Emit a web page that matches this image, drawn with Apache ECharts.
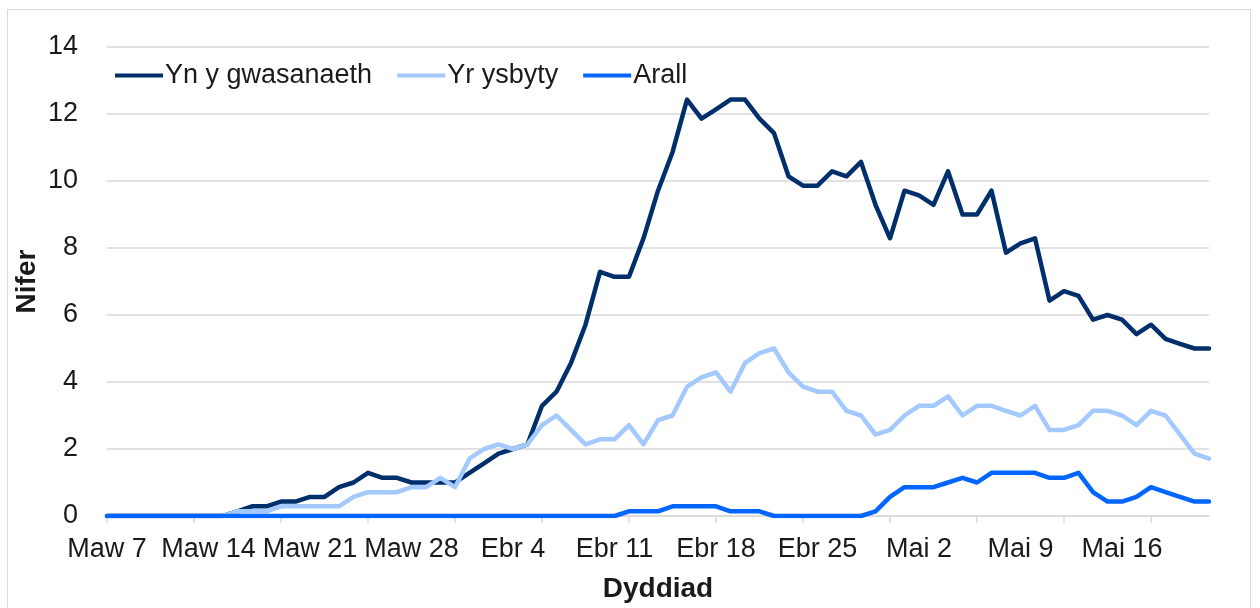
<!DOCTYPE html>
<html>
<head>
<meta charset="utf-8">
<script src="https://cdn.jsdelivr.net/npm/echarts@6/dist/echarts.min.js"></script>
<style>
  html, body { margin: 0; padding: 0; background: #fff; }
  #frame { position: absolute; left: 7px; top: 9px; width: 1244px; height: 610px; border: 1px solid #d9d9d9; box-sizing: border-box; }
  #chart { position: absolute; left: 0; top: 0; width: 1260px; height: 608px; }
</style>
</head>
<body>
<div id="frame"></div>
<div id="chart"></div>
<script>
// Categories: daily dates, Maw 7 .. Mai 22
const categories = [
  "Maw 7","Maw 8","Maw 9","Maw 10","Maw 11","Maw 12","Maw 13","Maw 14","Maw 15","Maw 16",
  "Maw 17","Maw 18","Maw 19","Maw 20","Maw 21","Maw 22","Maw 23","Maw 24","Maw 25","Maw 26",
  "Maw 27","Maw 28","Maw 29","Maw 30","Maw 31",
  "Ebr 1","Ebr 2","Ebr 3","Ebr 4","Ebr 5","Ebr 6","Ebr 7","Ebr 8","Ebr 9","Ebr 10",
  "Ebr 11","Ebr 12","Ebr 13","Ebr 14","Ebr 15","Ebr 16","Ebr 17","Ebr 18","Ebr 19","Ebr 20",
  "Ebr 21","Ebr 22","Ebr 23","Ebr 24","Ebr 25","Ebr 26","Ebr 27","Ebr 28","Ebr 29","Ebr 30",
  "Mai 1","Mai 2","Mai 3","Mai 4","Mai 5","Mai 6","Mai 7","Mai 8","Mai 9","Mai 10",
  "Mai 11","Mai 12","Mai 13","Mai 14","Mai 15","Mai 16","Mai 17","Mai 18","Mai 19","Mai 20",
  "Mai 21","Mai 22"
];

const seriesNames = ["Yn y gwasanaeth", "Yr ysbyty", "Arall"];

const ynYGwasanaeth = [
  0,0,0,0,0,0,0,0,0,0.14,
  0.29,0.29,0.43,0.43,0.57,0.57,0.86,1.0,1.29,1.14,
  1.14,1.0,1.0,1.0,1.0,1.29,1.57,1.86,2.0,2.14,
  3.29,3.71,4.57,5.71,7.29,7.14,7.14,8.29,9.71,10.86,
  12.43,11.86,12.14,12.43,12.43,11.86,11.43,10.14,9.86,9.86,
  10.29,10.14,10.57,9.29,8.29,9.71,9.57,9.29,10.29,9.0,
  9.0,9.71,7.86,8.14,8.29,6.43,6.71,6.57,5.86,6.0,
  5.86,5.43,5.71,5.29,5.14,5.0,5.0
];

const yrYsbyty = [
  0,0,0,0,0,0,0,0,0,0.14,
  0.14,0.14,0.29,0.29,0.29,0.29,0.29,0.57,0.71,0.71,
  0.71,0.86,0.86,1.14,0.86,1.71,2.0,2.14,2.0,2.14,
  2.71,3.0,2.57,2.14,2.29,2.29,2.71,2.14,2.86,3.0,
  3.86,4.14,4.29,3.71,4.57,4.86,5.0,4.29,3.86,3.71,
  3.71,3.14,3.0,2.43,2.57,3.0,3.29,3.29,3.57,3.0,
  3.29,3.29,3.14,3.0,3.29,2.57,2.57,2.71,3.14,3.14,
  3.0,2.71,3.14,3.0,2.43,1.86,1.71
];

const arall = [
  0,0,0,0,0,0,0,0,0,0,
  0,0,0,0,0,0,0,0,0,0,
  0,0,0,0,0,0,0,0,0,0,
  0,0,0,0,0,0,0.14,0.14,0.14,0.29,
  0.29,0.29,0.29,0.14,0.14,0.14,0,0,0,0,
  0,0,0,0.14,0.57,0.86,0.86,0.86,1.0,1.14,
  1.0,1.29,1.29,1.29,1.29,1.14,1.14,1.29,0.71,0.43,
  0.43,0.57,0.86,0.71,0.57,0.43,0.43
];

const yTicks = { min: 0, max: 14, interval: 2 };
const colors = ["#002f6c", "#a3c9ff", "#0066ff"];
const FONT = "'Liberation Sans', Arial, sans-serif";

const chart = echarts.init(document.getElementById('chart'), null, { renderer: 'canvas' });

function mkSeries(name, data, color) {
  return {
    name: name,
    type: 'line',
    data: data,
    symbol: 'none',
    showSymbol: false,
    smooth: false,
    color: color,
    lineStyle: { color: color, width: 4.5, cap: 'round', join: 'round' },
    emphasis: { disabled: true },
    animation: false
  };
}

chart.setOption({
  animation: false,
  backgroundColor: 'transparent',
  textStyle: { fontFamily: FONT },
  grid: { left: 107, right: 51, top: 47, bottom: 91, containLabel: false },
  legend: {
    left: 110,
    top: 57,
    icon: 'rect',
    itemWidth: 48,
    itemHeight: 4,
    itemGap: 25,
    textStyle: { fontFamily: FONT, fontSize: 27, color: '#1a1a1a', padding: [0, 0, 0, -3] },
    data: seriesNames
  },
  xAxis: {
    type: 'category',
    data: categories,
    boundaryGap: false,
    name: 'Dyddiad',
    nameLocation: 'middle',
    nameGap: 59,
    nameTextStyle: { fontFamily: FONT, fontSize: 28, fontWeight: 'bold', color: '#1a1a1a' },
    axisLine: { lineStyle: { color: '#d9d9d9', width: 1.5 } },
    axisTick: {
      show: true,
      length: 7,
      interval: function (idx) { return idx % 6 === 0; },
      lineStyle: { color: '#d9d9d9', width: 1.5 }
    },
    axisLabel: {
      interval: 6,
      margin: 20,
      fontFamily: FONT,
      fontSize: 27,
      color: '#1a1a1a'
    },
    splitLine: { show: false }
  },
  yAxis: {
    type: 'value',
    min: yTicks.min,
    max: yTicks.max,
    interval: yTicks.interval,
    name: 'Nifer',
    nameLocation: 'middle',
    nameGap: 66,
    nameMoveOverlap: false,
    nameTextStyle: { fontFamily: FONT, fontSize: 28, fontWeight: 'bold', color: '#1a1a1a' },
    axisLine: { show: false },
    axisTick: { show: false },
    axisLabel: { margin: 29, fontFamily: FONT, fontSize: 27, color: '#1a1a1a' },
    splitLine: { lineStyle: { color: '#d9d9d9', width: 1.5 } }
  },
  series: [
    mkSeries(seriesNames[0], ynYGwasanaeth, colors[0]),
    mkSeries(seriesNames[1], yrYsbyty, colors[1]),
    mkSeries(seriesNames[2], arall, colors[2])
  ]
});
</script>
</body>
</html>
